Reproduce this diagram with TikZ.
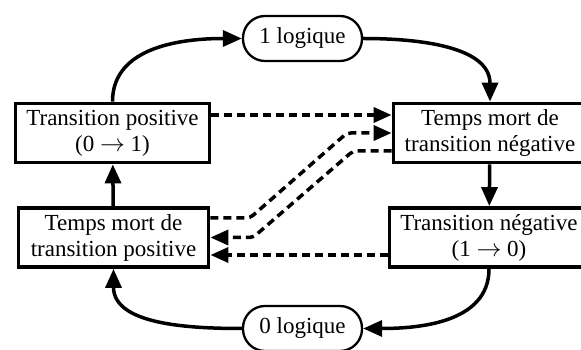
\documentclass[tikz,border=0pt]{standalone}
\usepackage{fontspec}
\setmainfont{Liberation Serif}
\usetikzlibrary{arrows.meta}

\begin{document}
\begin{tikzpicture}[x=1pt, y=1pt,
    stateBox/.style={draw, line width=3.8pt, minimum height=59pt, inner sep=0pt,
      align=center, font=\rmfamily\fontsize{23}{26}\selectfont},
    levelPill/.style={draw, line width=2.3pt, rounded corners=22pt, minimum width=119pt,
      minimum height=45pt, inner sep=0pt, font=\rmfamily\fontsize{23}{26}\selectfont},
    flowArrow/.style={line width=3.5pt, -{Triangle[length=19pt, width=16pt]}},
    deadArrow/.style={line width=3.5pt, dash pattern=on 8pt off 5pt, rounded corners=4pt,
      -{Triangle[length=18pt, width=15pt]}},
  ]
  \useasboundingbox (0,0) rectangle (581,350);

  % etats
  \node[levelPill] (high) at (302.5, 311.5) {1 logique};
  \node[levelPill] (low) at (302.5, 21.5) {0 logique};
  \node[stateBox, minimum width=194pt] (posTrans) at (112.5, 217) {Transition positive\\(0 $\rightarrow$ 1)};
  \node[stateBox, minimum width=193pt] (negDead) at (490, 217) {Temps mort de\\transition négative};
  \node[stateBox, minimum width=190pt] (posDead) at (113.5, 112.5) {Temps mort de\\transition positive};
  \node[stateBox, minimum width=199pt] (negTrans) at (489, 112.5) {Transition négative\\(1 $\rightarrow$ 0)};

  % cycle principal
  \draw[flowArrow] (posTrans.north) to[out=90, in=180] (high.west);
  \draw[flowArrow] (high.east) to[out=0, in=90] (negDead.north);
  \draw[flowArrow] (negDead) -- (negTrans);
  \draw[flowArrow] (negTrans.south) to[out=-90, in=0] (low.east);
  \draw[flowArrow] (low.west) to[out=180, in=-90] (posDead.south);
  \draw[flowArrow] (posDead) -- (posTrans);

  % temps morts
  \draw[deadArrow] ([yshift=18pt]posTrans.east) -- ([yshift=18pt]negDead.west);
  \draw[deadArrow] ([yshift=19.5pt]posDead.east) -- (250, 132) -- (347, 217) -- (negDead.west);
  \draw[deadArrow] ([yshift=-18pt]negDead.west) -- (353, 199) -- (253, 112.5) -- (posDead.east);
  \draw[deadArrow] ([yshift=-17.5pt]negTrans.west) -- ([yshift=-17.5pt]posDead.east);
\end{tikzpicture}
\end{document}
